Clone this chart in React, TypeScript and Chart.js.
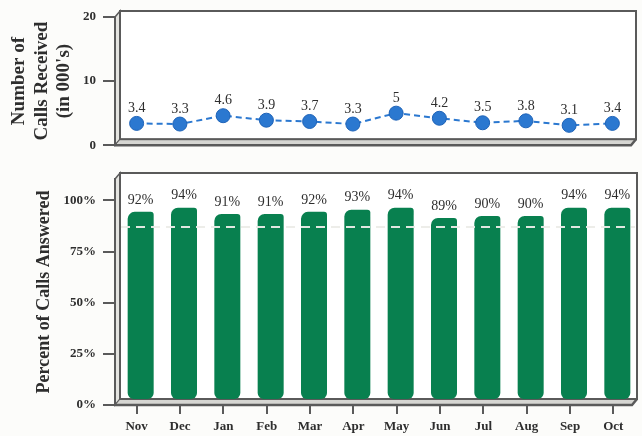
import { useEffect, useRef } from 'react';
import { Chart, registerables } from 'chart.js';

Chart.register(...registerables);

// Monthly call-centre figures
const MONTHS = ['Nov', 'Dec', 'Jan', 'Feb', 'Mar', 'Apr', 'May', 'Jun', 'Jul', 'Aug', 'Sep', 'Oct'];
const CALLS_RECEIVED = [3.4, 3.3, 4.6, 3.9, 3.7, 3.3, 5, 4.2, 3.5, 3.8, 3.1, 3.4];
const PCT_ANSWERED = [92, 94, 91, 91, 92, 93, 94, 89, 90, 90, 94, 94];
const CALLS_TICKS = [0, 10, 20];
const PCT_TICKS = [0, 25, 50, 75, 100];
const ANSWER_GOAL = 87;

const SERIF = "'Liberation Serif', 'Times New Roman', serif";
const INK = '#2e2e2e';
const FRAME = '#5a5a5a';
const GREEN = '#08804f';
const BLUE = '#2b78d0';

const DEPTH_X = 5;
const DEPTH_Y = 6;

// Draws a simple 3D box (left wall, floor, back wall) behind the plot.
const boxFrame = {
  id: 'boxFrame',
  beforeDraw(chart: any) {
    const { ctx, chartArea } = chart;
    const { left, right, top, bottom } = chartArea;
    const fr = right - 3;
    ctx.save();
    ctx.lineJoin = 'miter';
    // back wall
    ctx.fillStyle = '#ffffff';
    ctx.fillRect(left + DEPTH_X, top - DEPTH_Y, fr - left, bottom - top);
    // left wall
    ctx.beginPath();
    ctx.moveTo(left, top);
    ctx.lineTo(left + DEPTH_X, top - DEPTH_Y);
    ctx.lineTo(left + DEPTH_X, bottom - DEPTH_Y);
    ctx.lineTo(left, bottom);
    ctx.closePath();
    ctx.fillStyle = '#e4e4e0';
    ctx.fill();
    ctx.strokeStyle = FRAME;
    ctx.lineWidth = 1.5;
    ctx.stroke();
    // floor
    ctx.beginPath();
    ctx.moveTo(left, bottom);
    ctx.lineTo(left + DEPTH_X, bottom - DEPTH_Y);
    ctx.lineTo(fr + DEPTH_X, bottom - DEPTH_Y);
    ctx.lineTo(fr, bottom);
    ctx.closePath();
    ctx.fillStyle = '#d6d6d2';
    ctx.fill();
    ctx.lineWidth = 1;
    ctx.stroke();
    // back wall outline
    ctx.lineWidth = 2;
    ctx.strokeStyle = FRAME;
    ctx.strokeRect(left + DEPTH_X, top - DEPTH_Y, fr - left, bottom - top);
    // front floor edge
    ctx.beginPath();
    ctx.moveTo(left, bottom);
    ctx.lineTo(fr, bottom);
    ctx.lineTo(fr + DEPTH_X, bottom - DEPTH_Y);
    ctx.lineWidth = 2.5;
    ctx.stroke();
    ctx.restore();
  },
};

const callLabels = {
  id: 'callLabels',
  afterDatasetsDraw(chart: any) {
    const { ctx } = chart;
    const meta = chart.getDatasetMeta(0);
    ctx.save();
    ctx.font = `14px ${SERIF}`;
    ctx.fillStyle = INK;
    ctx.textAlign = 'center';
    ctx.textBaseline = 'middle';
    meta.data.forEach((pt: any, i: number) => {
      const { x, y } = pt.getProps(['x', 'y'], true);
      ctx.fillText(String(CALLS_RECEIVED[i]), x, y - 15);
    });
    ctx.restore();
  },
};

// Bars sit at mid-depth of the box, with their value labels; goal line on top.
const barDepth = {
  id: 'barDepth',
  beforeDatasetsDraw(chart: any) {
    chart.ctx.save();
    chart.ctx.translate(4, -5);
  },
  afterDatasetsDraw(chart: any) {
    const { ctx, chartArea } = chart;
    const meta = chart.getDatasetMeta(0);
    ctx.font = `14px ${SERIF}`;
    ctx.fillStyle = INK;
    ctx.textAlign = 'center';
    ctx.textBaseline = 'middle';
    meta.data.forEach((bar: any, i: number) => {
      const { x, y } = bar.getProps(['x', 'y'], true);
      ctx.fillText(`${PCT_ANSWERED[i]}%`, x, y - 12);
    });
    ctx.restore();

    const gy = chart.scales.y.getPixelForValue(ANSWER_GOAL);
    ctx.save();
    ctx.strokeStyle = 'rgba(236,236,232,0.95)';
    ctx.lineWidth = 2;
    ctx.setLineDash([9, 6]);
    ctx.beginPath();
    ctx.moveTo(chartArea.left + DEPTH_X + 1, gy);
    ctx.lineTo(chartArea.right, gy);
    ctx.stroke();
    ctx.restore();
  },
};

const tickFont = { family: SERIF, size: 13, weight: 'bold' as const };

function CallsChart() {
  const ref = useRef<HTMLCanvasElement | null>(null);
  useEffect(() => {
    if (!ref.current) return;
    const chart = new Chart(ref.current, {
      type: 'line',
      data: {
        labels: MONTHS,
        datasets: [
          {
            data: CALLS_RECEIVED,
            borderColor: BLUE,
            borderWidth: 2,
            borderDash: [6, 4],
            pointRadius: 7,
            pointBackgroundColor: BLUE,
            pointBorderColor: '#1e63b8',
            pointBorderWidth: 1,
            tension: 0,
          },
        ],
      },
      options: {
        responsive: false,
        animation: false,
        layout: { padding: { top: 17, right: 7, bottom: 11, left: 0 } },
        plugins: { legend: { display: false }, tooltip: { enabled: false } },
        scales: {
          x: { display: false, offset: true },
          y: {
            min: 0,
            max: 20,
            afterBuildTicks: (s: any) => {
              s.ticks = CALLS_TICKS.map((v) => ({ value: v }));
            },
            afterFit: (s: any) => {
              s.width = 115;
            },
            grid: { drawOnChartArea: false, tickLength: 12, color: FRAME, lineWidth: 2 },
            border: { display: true, color: FRAME, width: 2 },
            ticks: { font: tickFont, color: INK, padding: 7 },
            title: {
              display: true,
              text: ['Number of', 'Calls Received', "(in 000's)"],
              font: { family: SERIF, size: 19, weight: 'bold', lineHeight: 1.18 },
              color: INK,
              padding: { top: 8, bottom: 0 },
            },
          },
        },
      },
      plugins: [boxFrame, callLabels],
    });
    return () => chart.destroy();
  }, []);
  return <canvas ref={ref} width={642} height={160} style={{ display: 'block' }} />;
}

function AnsweredChart() {
  const ref = useRef<HTMLCanvasElement | null>(null);
  useEffect(() => {
    if (!ref.current) return;
    const chart = new Chart(ref.current, {
      type: 'bar',
      data: {
        labels: MONTHS,
        datasets: [
          {
            data: PCT_ANSWERED,
            backgroundColor: GREEN,
            borderWidth: 0,
            borderSkipped: false,
            borderRadius: { topLeft: 7, topRight: 3, bottomLeft: 6, bottomRight: 6 },
            barPercentage: 0.6,
            categoryPercentage: 1,
          },
        ],
      },
      options: {
        responsive: false,
        animation: false,
        layout: { padding: { top: 19, right: 7, bottom: 0, left: 0 } },
        plugins: { legend: { display: false }, tooltip: { enabled: false } },
        scales: {
          x: {
            afterFit: (s: any) => {
              s.height = 31;
            },
            grid: { offset: false, drawOnChartArea: false, tickLength: 9, color: FRAME, lineWidth: 2 },
            border: { display: false },
            ticks: { font: { family: SERIF, size: 13, weight: 'bold' }, color: INK, padding: 5 },
          },
          y: {
            min: 0,
            max: 110.5,
            afterBuildTicks: (s: any) => {
              s.ticks = PCT_TICKS.map((v) => ({ value: v }));
            },
            afterFit: (s: any) => {
              s.width = 115;
            },
            grid: { drawOnChartArea: false, tickLength: 12, color: FRAME, lineWidth: 2 },
            border: { display: true, color: FRAME, width: 2 },
            ticks: { font: tickFont, color: INK, padding: 7, callback: (v: any) => `${v}%` },
            title: {
              display: true,
              text: 'Percent of Calls Answered',
              font: { family: SERIF, size: 18, weight: 'bold' },
              color: INK,
              padding: { top: 34, bottom: 0 },
            },
          },
        },
      },
      plugins: [boxFrame, barDepth],
    });
    return () => chart.destroy();
  }, []);
  return <canvas ref={ref} width={642} height={276} style={{ display: 'block' }} />;
}

export default function App() {
  return (
    <div
      style={{
        position: 'fixed',
        left: 0,
        top: 0,
        width: 642,
        height: 436,
        background: '#fcfcfa',
        overflow: 'hidden',
      }}
    >
      <CallsChart />
      <AnsweredChart />
    </div>
  );
}
